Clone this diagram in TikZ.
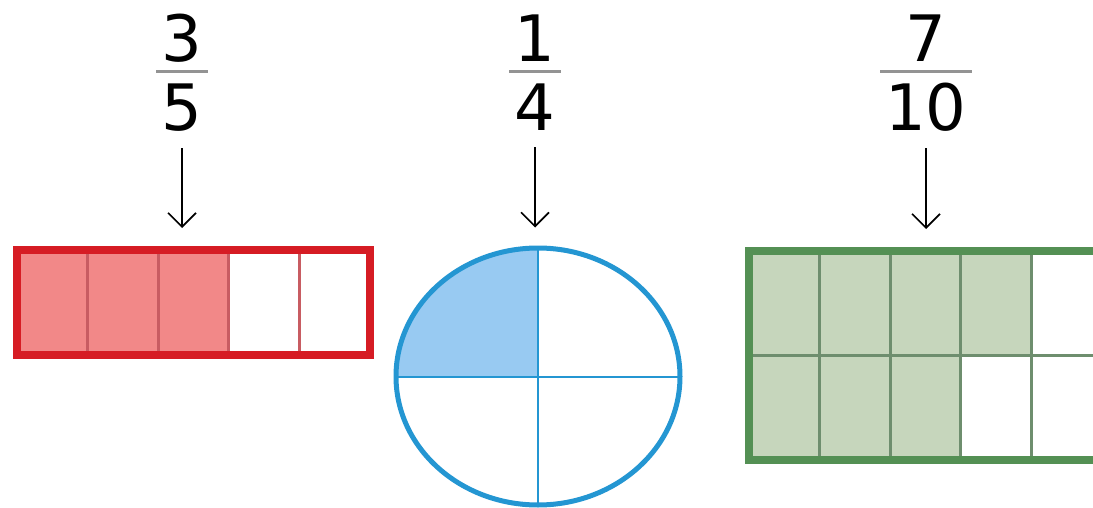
\documentclass[tikz,border=0pt]{standalone}
\usepackage{fontspec}
\setmainfont{DejaVu Sans}
\usetikzlibrary{arrows.meta, positioning, backgrounds, shapes.geometric}

\definecolor{rougetrait}{RGB}{214,28,36}
\definecolor{rougeclair}{RGB}{242,136,136}
\definecolor{rougediv}{RGB}{200,92,98}
\definecolor{bleutrait}{RGB}{36,150,210}
\definecolor{bleuclair}{RGB}{152,202,242}
\definecolor{verttrait}{RGB}{84,144,84}
\definecolor{vertclair}{RGB}{198,214,188}
\definecolor{vertdiv}{RGB}{110,142,110}

\begin{document}
\begin{tikzpicture}[x=1pt, y=-1pt,
  chiffre/.style={font=\fontsize{64}{64}\selectfont, inner sep=0pt, anchor=base},
  barre/.style={line width=3pt, gray!85},
  fleche/.style={-{Straight Barb[length=14pt, width=28pt, line width=1.6pt]},
                 line width=1.6pt, shorten <=16pt, shorten >=18pt},
  cadre/.style={rectangle, draw, line width=8pt, inner sep=0pt}
]
  \useasboundingbox (0,0) rectangle (1093,508);

  %=========================================================
  % 1. Bande rouge : 3/5
  %=========================================================
  \fill[rougeclair] (17,250) rectangle (229,355);
  \foreach \i in {1,...,4}
    \draw[rougediv, line width=3pt] ({17+70.6*\i},250) -- ({17+70.6*\i},355);
  \node[cadre, draw=rougetrait, minimum width=353pt, minimum height=105pt]
    (bande) at (193.5,302.5) {};

  \node[chiffre] (num1) at (182,62) {3};
  \node[chiffre] (den1) at (182,131) {5};
  \coordinate (b1) at (182,72);
  \draw[barre] ([xshift=-5pt]den1.west |- b1) -- ([xshift=5pt]den1.east |- b1);
  \draw[fleche] (den1.south) -- (den1.south |- bande.north);

  %=========================================================
  % 2. Disque bleu : 1/4
  %=========================================================
  \begin{scope}
    \clip (538,376.5) ellipse [x radius=142pt, y radius=128.5pt];
    \fill[bleuclair] (538,376.5) rectangle (390,240);
  \end{scope}
  \draw[bleutrait, line width=2pt] (538,248) -- (538,505);
  \draw[bleutrait, line width=2pt] (396,376.5) -- (680,376.5);
  \node[ellipse, draw=bleutrait, line width=5pt, inner sep=0pt,
        minimum width=284pt, minimum height=257pt] (disque) at (538,376.5) {};

  \node[chiffre] (num2) at (535,62) {1};
  \node[chiffre] (den2) at (535,131) {4};
  \coordinate (b2) at (535,72);
  \draw[barre] ([xshift=-5pt]den2.west |- b2) -- ([xshift=5pt]den2.east |- b2);
  \draw[fleche] (den2.south) -- (den2.south |- disque.north);

  %=========================================================
  % 3. Grille verte : 7/10
  %=========================================================
  \foreach \i in {0,...,3}
    \fill[vertclair] ({749+70.6*\i},251) rectangle ({749+70.6*(\i+1)},355.5);
  \foreach \i in {0,...,2}
    \fill[vertclair] ({749+70.6*\i},355.5) rectangle ({749+70.6*(\i+1)},460);
  \foreach \i in {1,...,4}
    \draw[vertdiv, line width=3pt] ({749+70.6*\i},251) -- ({749+70.6*\i},460);
  \draw[vertdiv, line width=3pt] (749,355.5) -- (1102,355.5);
  \node[cadre, draw=verttrait, minimum width=353pt, minimum height=209pt]
    (grille) at (925.5,355.5) {};

  \node[chiffre] (num3) at (926,62) {7};
  \node[chiffre] (den3) at (926,131) {10};
  \coordinate (b3) at (926,72);
  \draw[barre] ([xshift=-5pt]den3.west |- b3) -- ([xshift=5pt]den3.east |- b3);
  \draw[fleche] (den3.south) -- (den3.south |- grille.north);

\end{tikzpicture}
\end{document}
